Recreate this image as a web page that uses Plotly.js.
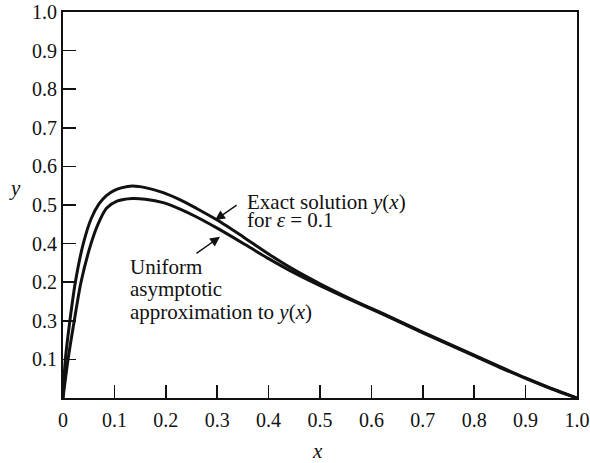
<!DOCTYPE html>
<html>
<head>
<meta charset="utf-8">
<script src="https://cdn.plot.ly/plotly-3.0.1.min.js"></script>
<style>
  html, body { margin: 0; padding: 0; background: #fff; }
  #plot { width: 590px; height: 463px; }
</style>
</head>
<body>
<div id="plot"></div>
<script>
// Exact solution y(x) for epsilon = 0.1
const exactX = [0, 0.0045, 0.013, 0.024, 0.0395, 0.055, 0.07, 0.085, 0.1, 0.115, 0.135, 0.16, 0.195, 0.23, 0.26, 0.3, 0.35, 0.4, 0.45, 0.5, 0.55, 0.6, 0.65, 0.7, 0.75, 0.8, 0.85, 0.9, 0.95, 1.0];
const exactY = [0, 0.099, 0.196, 0.3, 0.4, 0.465, 0.503, 0.525, 0.538, 0.545, 0.549, 0.545, 0.532, 0.512, 0.491, 0.461, 0.418, 0.373, 0.332, 0.296, 0.263, 0.232, 0.202, 0.171, 0.141, 0.111, 0.081, 0.052, 0.025, 0];

// Uniform asymptotic approximation to y(x)
const approxX = [0, 0.0097, 0.0214, 0.035, 0.0545, 0.068, 0.085, 0.105, 0.135, 0.16, 0.195, 0.23, 0.26, 0.3, 0.35, 0.4, 0.45, 0.5, 0.55, 0.6, 0.65, 0.7, 0.75, 0.8, 0.85, 0.9, 0.95, 1.0];
const approxY = [0, 0.099, 0.196, 0.3, 0.4, 0.45, 0.492, 0.51, 0.517, 0.515, 0.506, 0.488, 0.469, 0.44, 0.401, 0.361, 0.324, 0.291, 0.26, 0.23, 0.2, 0.169, 0.139, 0.109, 0.079, 0.051, 0.024, 0];

// Axis ticks and their printed labels
const xTickVals = [0, 0.1, 0.2, 0.3, 0.4, 0.5, 0.6, 0.7, 0.8, 0.9, 1.0];
const xTickText = ["0", "0.1", "0.2", "0.3", "0.4", "0.5", "0.6", "0.7", "0.8", "0.9", "1.0"];
const yTickVals = [0.1, 0.2, 0.3, 0.4, 0.5, 0.6, 0.7, 0.8, 0.9, 1.0];
const yTickText = ["0.1", "0.3", "0.2", "0.4", "0.5", "0.6", "0.7", "0.8", "0.9", "1.0"];

const SERIF = "Liberation Serif, Times New Roman, serif";
const INK = "#111";

const curveStyle = { color: INK, width: 3, shape: "spline", smoothing: 0.8 };

const traces = [
  { x: exactX, y: exactY, mode: "lines", line: curveStyle, hoverinfo: "skip", name: "exact" },
  { x: approxX, y: approxY, mode: "lines", line: curveStyle, hoverinfo: "skip", name: "uniform" }
];

const axisBase = {
  showline: true, mirror: true, linecolor: INK, linewidth: 2,
  ticks: "inside", ticklen: 13, tickwidth: 1.5, tickcolor: INK,
  showgrid: false, zeroline: false, fixedrange: true,
  tickfont: { family: SERIF, size: 20, color: INK }
};

const txt = (text, x, y, extra) => Object.assign({
  text, xref: "paper", yref: "paper", x, y,
  xanchor: "left", yanchor: "middle", showarrow: false,
  font: { family: SERIF, size: 21, color: INK }
}, extra || {});

const layout = {
  width: 590, height: 463,
  margin: { l: 63, r: 13, t: 12, b: 65 },
  paper_bgcolor: "#fff", plot_bgcolor: "#fff",
  showlegend: false,
  xaxis: Object.assign({}, axisBase, {
    range: [0, 1], tickmode: "array", tickvals: xTickVals, ticktext: xTickText,
    ticklabelstandoff: 3
  }),
  yaxis: Object.assign({}, axisBase, {
    range: [0, 1], tickmode: "array", tickvals: yTickVals, ticktext: yTickText
  }),
  annotations: [
    txt("Exact solution <i>y</i>(<i>x</i>)", 0.354, 0.508),
    txt("for <i>ε</i> = 0.1", 0.354, 0.461),
    txt("Uniform", 0.127, 0.340),
    txt("asymptotic", 0.127, 0.2817),
    txt("approximation to <i>y</i>(<i>x</i>)", 0.127, 0.2238),
    txt("<i>y</i>", -0.093, 0.543, { xanchor: "center" }),
    txt("<i>x</i>", 0.496, -0.138, { xanchor: "center" }),
    // pointer arrows from the labels to the two curves
    { xref: "x", yref: "y", x: 0.296, y: 0.461, ax: 23, ay: -16, text: "",
      showarrow: true, arrowhead: 2, arrowsize: 1.4, arrowwidth: 1.4, arrowcolor: INK, standoff: 0 },
    { xref: "x", yref: "y", x: 0.3054, y: 0.4176, ax: -25, ay: 17.6, text: "",
      showarrow: true, arrowhead: 2, arrowsize: 1.4, arrowwidth: 1.4, arrowcolor: INK, standoff: 0 }
  ]
};

Plotly.newPlot("plot", traces, layout, { staticPlot: true, displayModeBar: false });
</script>
</body>
</html>
